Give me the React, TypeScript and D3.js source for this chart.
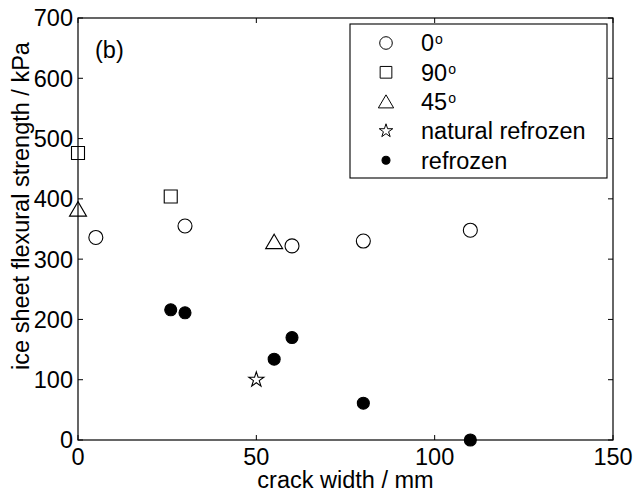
import { useEffect, useRef } from "react";
import * as d3 from "d3";

const deg0X = [5, 30, 60, 80, 110];
const deg0Y = [336, 355, 322, 330, 348];
const deg90X = [0, 26];
const deg90Y = [476, 404];
const deg45X = [0, 55];
const deg45Y = [383, 329];
const naturalX = [50];
const naturalY = [100];
const refrozenX = [26, 30, 55, 60, 80, 110];
const refrozenY = [216, 211, 134, 170, 61, 0];

const xTicks = [0, 50, 100, 150];
const yTicks = [0, 100, 200, 300, 400, 500, 600, 700];
const legendLabels = ["0", "90", "45", "natural refrozen", "refrozen"];

const W = 636;
const H = 495;
const FONT = "'Liberation Sans', Arial, sans-serif";
const FS = 23.5;

// marker path generators, centred on 0,0
const markerPath = (kind: string): string => {
  if (kind === "circle") return d3.symbol(d3.symbolCircle, Math.PI * 7 * 7)()!;
  if (kind === "square") return "M-6.5,-6.5H6.5V6.5H-6.5Z";
  if (kind === "triangle") return "M0,-7.5L8.5,7L-8.5,7Z";
  if (kind === "star") return d3.symbol(d3.symbolStar, 70)()!;
  return d3.symbol(d3.symbolCircle, Math.PI * 6 * 6)()!;
};

const App = () => {
  const ref = useRef<SVGSVGElement>(null);

  useEffect(() => {
    document.body.style.margin = "0";
    const svg = d3.select(ref.current);
    svg.selectAll("*").remove();

    const x = d3.scaleLinear().domain([0, 150]).range([78, 613]);
    const y = d3.scaleLinear().domain([0, 700]).range([440, 18]);

    const g = svg.append("g").attr("font-family", FONT).attr("fill", "#000");

    // box
    g.append("rect")
      .attr("x", x(0))
      .attr("y", y(700))
      .attr("width", x(150) - x(0))
      .attr("height", y(0) - y(700))
      .attr("fill", "none")
      .attr("stroke", "#000")
      .attr("stroke-width", 1.2);

    // ticks, inward on all four sides
    const tl = 5;
    xTicks.forEach((t) => {
      g.append("line").attr("x1", x(t)).attr("x2", x(t)).attr("y1", y(0)).attr("y2", y(0) - tl).attr("stroke", "#000");
      g.append("line").attr("x1", x(t)).attr("x2", x(t)).attr("y1", y(700)).attr("y2", y(700) + tl).attr("stroke", "#000");
      g.append("text")
        .attr("x", x(t))
        .attr("y", 465)
        .attr("text-anchor", "middle")
        .attr("font-size", FS)
        .text(t);
    });
    yTicks.forEach((t) => {
      g.append("line").attr("x1", x(0)).attr("x2", x(0) + tl).attr("y1", y(t)).attr("y2", y(t)).attr("stroke", "#000");
      g.append("line").attr("x1", x(150)).attr("x2", x(150) - tl).attr("y1", y(t)).attr("y2", y(t)).attr("stroke", "#000");
      g.append("text")
        .attr("x", 73)
        .attr("y", y(t))
        .attr("dy", "0.36em")
        .attr("text-anchor", "end")
        .attr("font-size", FS)
        .text(t);
    });

    // axis titles
    g.append("text")
      .attr("x", x(75))
      .attr("y", 488)
      .attr("text-anchor", "middle")
      .attr("font-size", FS)
      .text("crack width / mm");
    g.append("text")
      .attr("transform", "translate(29,206) rotate(-90)")
      .attr("text-anchor", "middle")
      .attr("font-size", FS)
      .text("ice sheet flexural strength / kPa");

    g.append("text").attr("x", 95).attr("y", 58).attr("font-size", FS).text("(b)");

    // data series
    const series = [
      { kind: "circle", xs: deg0X, ys: deg0Y, filled: false },
      { kind: "square", xs: deg90X, ys: deg90Y, filled: false },
      { kind: "triangle", xs: deg45X, ys: deg45Y, filled: false },
      { kind: "star", xs: naturalX, ys: naturalY, filled: false },
      { kind: "dot", xs: refrozenX, ys: refrozenY, filled: true },
    ];

    series.forEach((s) => {
      g.append("g")
        .selectAll("path")
        .data(s.xs.map((v, i) => [v, s.ys[i]]))
        .join("path")
        .attr("d", markerPath(s.kind))
        .attr("transform", (d) => `translate(${x(d[0])},${y(d[1])})`)
        .attr("fill", s.filled ? "#000" : "none")
        .attr("stroke", "#000")
        .attr("stroke-width", 1.1);
    });

    // legend
    const lg = g.append("g");
    lg.append("rect")
      .attr("x", 350)
      .attr("y", 24)
      .attr("width", 257)
      .attr("height", 154)
      .attr("fill", "#fff")
      .attr("stroke", "#000")
      .attr("stroke-width", 1.1);
    series.forEach((s, i) => {
      const cy = 43 + i * 29.3;
      lg.append("path")
        .attr("d", s.kind === "dot" ? d3.symbol(d3.symbolCircle, Math.PI * 4 * 4)()! : markerPath(s.kind))
        .attr("transform", `translate(386,${cy}) scale(${s.kind === "dot" ? 1 : 0.9})`)
        .attr("fill", s.filled ? "#000" : "none")
        .attr("stroke", "#000")
        .attr("stroke-width", 1.1);
      const t = lg.append("text")
        .attr("x", 421)
        .attr("y", cy)
        .attr("dy", "0.36em")
        .attr("font-size", FS)
        .text(legendLabels[i]);
      if (i < 3) {
        t.append("tspan").attr("dx", 1).attr("dy", "-0.5em").attr("font-size", 14).text("o");
      }
    });
  }, []);

  return <svg ref={ref} width={W} height={H} style={{ display: "block", background: "#fff" }} />;
};

export default App;
